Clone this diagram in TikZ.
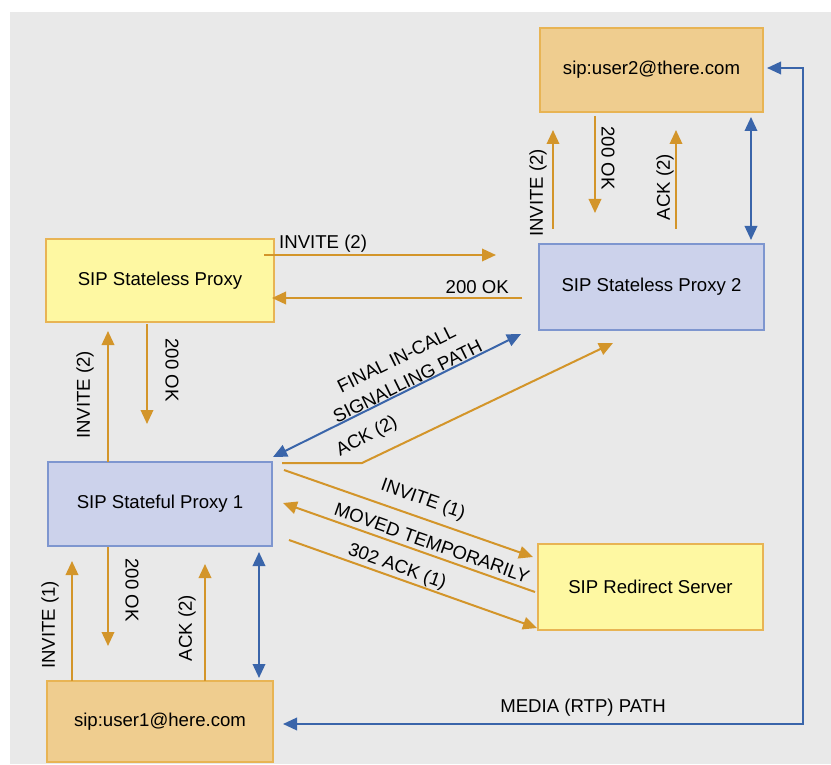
\documentclass[tikz,border=0pt]{standalone}
\usepackage{fontspec}
\setmainfont{Liberation Sans}
\usetikzlibrary{arrows.meta}
\definecolor{bggray}{HTML}{E9E9E9}
\definecolor{userfill}{HTML}{EFCD8F}
\definecolor{orgborder}{HTML}{E8B454}
\definecolor{yelfill}{HTML}{FEF8A2}
\definecolor{bluefill}{HTML}{CCD2EB}
\definecolor{blueborder}{HTML}{7E96CF}
\definecolor{oline}{HTML}{D3952A}
\definecolor{bline}{HTML}{3A65AA}
\begin{document}
\begin{tikzpicture}[x=1pt,y=-1pt,
  every node/.style={font=\fontsize{18.6}{25}\selectfont},
  box/.style={draw, line width=1.5pt, inner sep=0pt},
  userbox/.style={box, fill=userfill, draw=orgborder},
  yelbox/.style={box, fill=yelfill, draw=orgborder},
  bluebox/.style={box, fill=bluefill, draw=blueborder},
  oarr/.style={draw=oline, line width=2pt, -{Triangle[length=14pt,width=12.5pt]}},
  barr/.style={draw=bline, line width=2pt, {Triangle[length=14pt,width=12.5pt]}-{Triangle[length=14pt,width=12.5pt]}},
  lbl/.style={inner sep=0pt}
]
\useasboundingbox (0,0) rectangle (831,765);
\fill[bggray] (10,12) rectangle (831,764);

% boxes
\node[userbox, minimum width=223pt, minimum height=84pt] (u2) at (651.5,70) {sip:user2@there.com};
\node[bluebox, minimum width=225pt, minimum height=86pt] (sp2) at (651.5,287) {SIP Stateless Proxy 2};
\node[yelbox, minimum width=228pt, minimum height=83pt] (slp) at (160,280.5) {SIP Stateless Proxy};
\node[bluebox, minimum width=224pt, minimum height=84pt] (sp1) at (160,504) {SIP Stateful Proxy 1};
\node[yelbox, minimum width=225pt, minimum height=86pt] (rs) at (650.5,587) {SIP Redirect Server};
\node[userbox, minimum width=226pt, minimum height=81pt] (u1) at (160,721.5) {sip:user1@here.com};

% endpoints
\coordinate (a1s) at (553,229); \coordinate (a1e) at (553,130);
\coordinate (a2s) at (595,116); \coordinate (a2e) at (595,213);
\coordinate (a3s) at (676,229); \coordinate (a3e) at (676,130);
\coordinate (a4s) at (751,117); \coordinate (a4e) at (751,240);
\coordinate (b1s) at (264,255); \coordinate (b1e) at (496,255);
\coordinate (b2s) at (522,298); \coordinate (b2e) at (272,298);
\coordinate (c1s) at (108,462); \coordinate (c1e) at (108,331);
\coordinate (c2s) at (147,324); \coordinate (c2e) at (147,424);
\coordinate (d1s) at (273,457); \coordinate (d1e) at (521,334);
\coordinate (d2s) at (282,463); \coordinate (d2m) at (362,463); \coordinate (d2e) at (613,343);
\coordinate (e1s) at (284,470); \coordinate (e1e) at (533,557);
\coordinate (e2s) at (535,592); \coordinate (e2e) at (283,503);
\coordinate (e3s) at (289,540); \coordinate (e3e) at (537,628);
\coordinate (f1s) at (72,681); \coordinate (f1e) at (72,561);
\coordinate (f2s) at (108,547); \coordinate (f2e) at (108,646);
\coordinate (f3s) at (205,681); \coordinate (f3e) at (205,564);
\coordinate (f4s) at (259,552); \coordinate (f4e) at (259,678);
\coordinate (m1) at (767,68); \coordinate (m2) at (803,68);
\coordinate (m3) at (803,724); \coordinate (m4) at (283,724);

% user2 <-> proxy 2
\draw[oarr] (a1s) -- (a1e);
\draw[oarr] (a2s) -- (a2e);
\draw[oarr] (a3s) -- (a3e);
\draw[barr] (a4s) -- (a4e);
\node[lbl, rotate=90] (la1) at (538,193) {INVITE (2)};
\node[lbl, rotate=-90] (la2) at (608,158) {200 OK};
\node[lbl, rotate=90] (la3) at (665,187) {ACK (2)};

% stateless proxy <-> proxy 2
\draw[oarr] (b1s) -- (b1e);
\draw[oarr] (b2s) -- (b2e);
\node[lbl, anchor=west] (lb1) at (279,244) {INVITE (2)};
\node[lbl, anchor=east] (lb2) at (509,287) {200 OK};

% stateless proxy <-> proxy 1
\draw[oarr] (c1s) -- (c1e);
\draw[oarr] (c2s) -- (c2e);
\node[lbl, rotate=90] (lc1) at (85,395) {INVITE (2)};
\node[lbl, rotate=-90] (lc2) at (172,370) {200 OK};

% proxy 1 <-> proxy 2
\draw[barr] (d1s) -- (d1e);
\draw[oarr] (d2s) -- (d2m) -- (d2e);
\node[lbl, rotate=26.4, align=center] (ld1) at (402,370) {FINAL IN-CALL\\SIGNALLING PATH};
\node[lbl, rotate=28] (ld2) at (367,437) {ACK (2)};

% proxy 1 <-> redirect
\draw[oarr] (e1s) -- (e1e);
\draw[oarr] (e2s) -- (e2e);
\draw[oarr] (e3s) -- (e3e);
\node[lbl, rotate=-19.5] (le1) at (423,500) {INVITE (1)};
\node[lbl, rotate=-19.5] (le2) at (432,543) {MOVED TEMPORARILY};
\node[lbl, rotate=-19.5] (le3) at (397,567) {302 ACK (1)};

% user1 <-> proxy 1
\draw[oarr] (f1s) -- (f1e);
\draw[oarr] (f2s) -- (f2e);
\draw[oarr] (f3s) -- (f3e);
\draw[barr] (f4s) -- (f4e);
\node[lbl, rotate=90] (lf1) at (50,625) {INVITE (1)};
\node[lbl, rotate=-90] (lf2) at (132,590) {200 OK};
\node[lbl, rotate=90] (lf3) at (187,628) {ACK (2)};

% media path
\draw[barr] (m1) -- (m2) -- (m3) -- (m4);
\node[lbl] (lm) at (583,708) {MEDIA (RTP) PATH};
\end{tikzpicture}
\end{document}
